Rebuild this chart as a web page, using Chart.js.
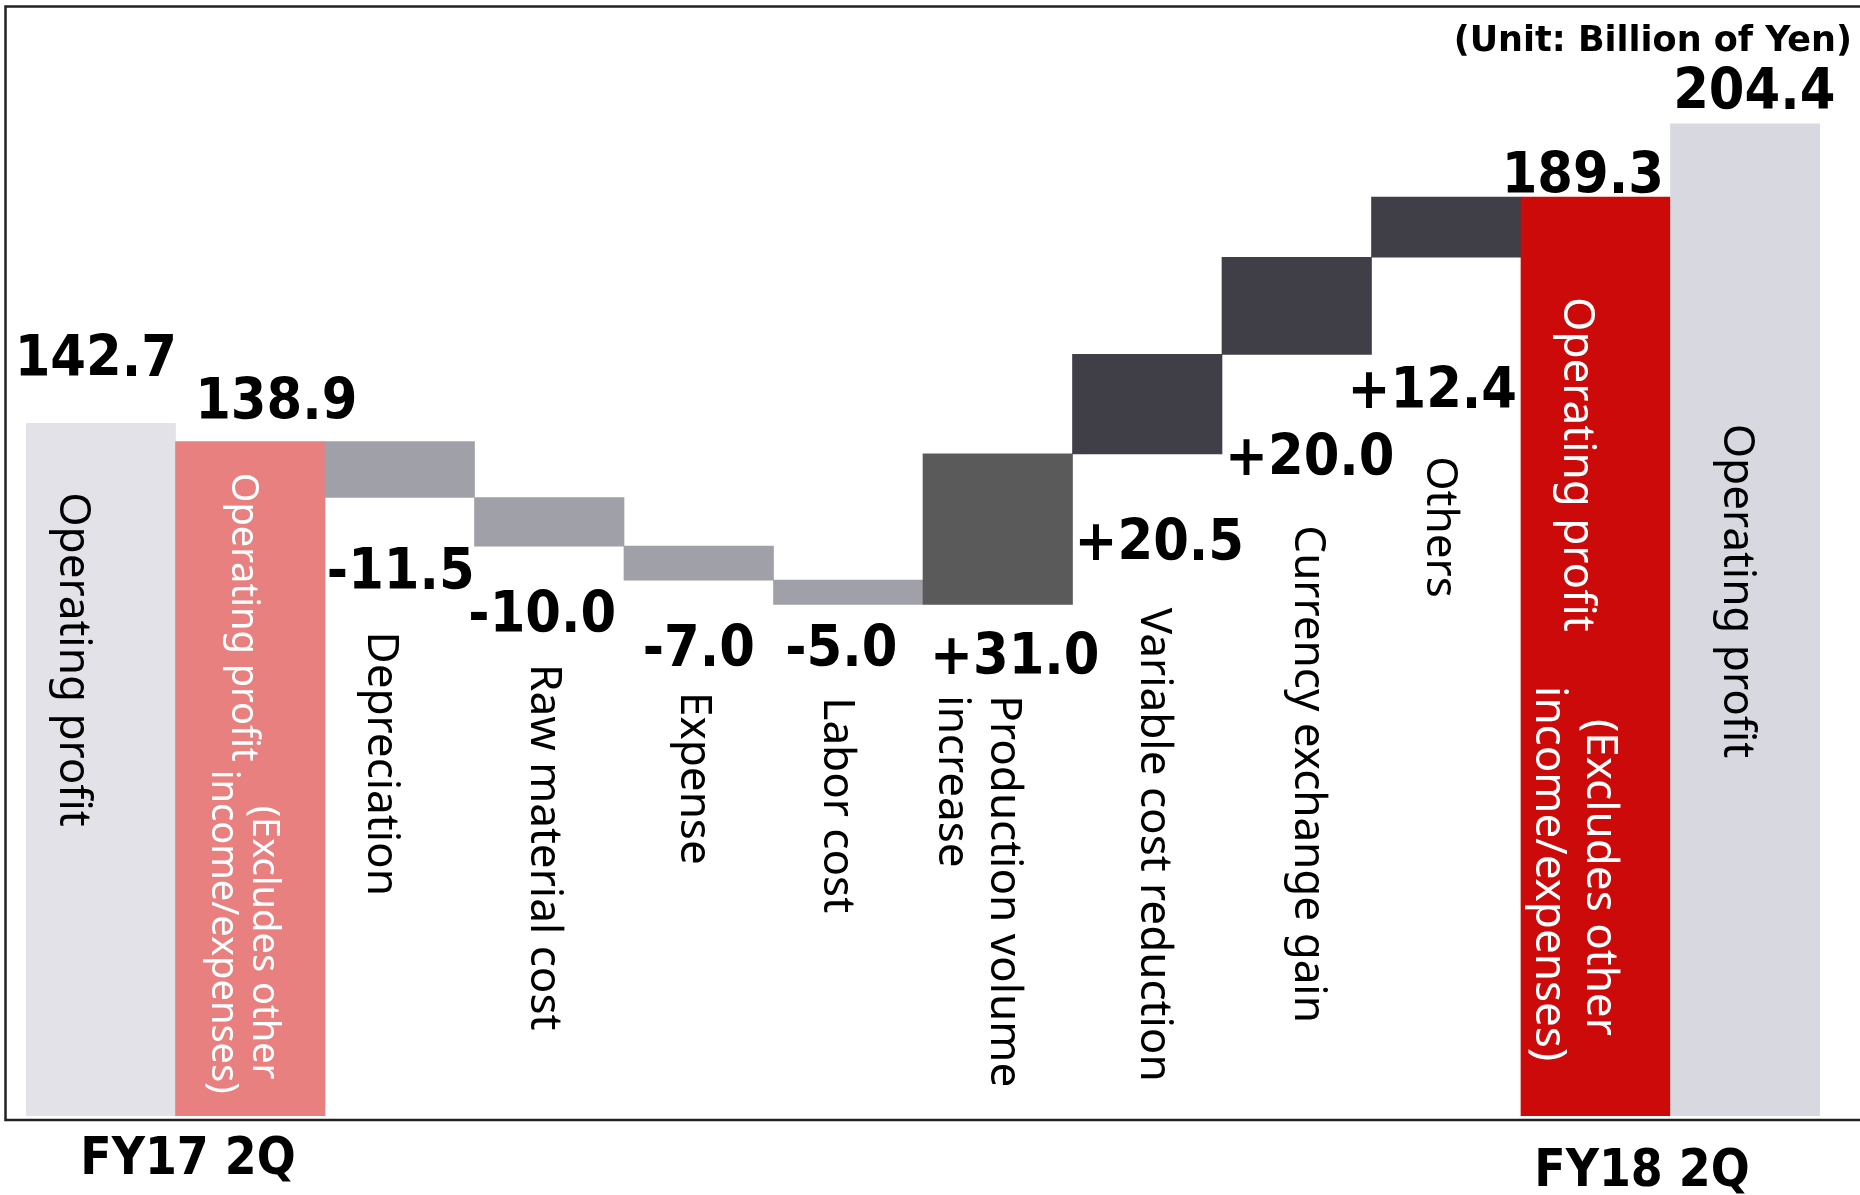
<!DOCTYPE html>
<html>
<head>
<meta charset="utf-8">
<script src="https://cdn.jsdelivr.net/npm/chart.js@4/dist/chart.umd.min.js"></script>
<style>
  html, body { margin: 0; padding: 0; background: #fff; }
  #wrap { position: relative; width: 1860px; height: 1195px; }
</style>
</head>
<body>
<div id="wrap"><canvas id="bridgeChart"></canvas></div>
<script>
// ---- data (billion yen) ----
var categories = [
  ['Operating profit'],
  ['Operating profit', '(Excludes other', 'income/expenses)'],
  ['Depreciation'],
  ['Raw material cost'],
  ['Expense'],
  ['Labor cost'],
  ['Production volume', 'increase'],
  ['Variable cost reduction'],
  ['Currency exchange gain'],
  ['Others'],
  ['Operating profit', '(Excludes other', 'income/expenses)'],
  ['Operating profit']
];
var totals  = [142.7, 138.9, null, null, null, null, null, null, null, null, 189.3, 204.4];
var changes = [null, null, -11.5, -10.0, -7.0, -5.0, 31.0, 20.5, 20.0, 12.4, null, null];
var periods = ['FY17 2Q', 'FY18 2Q'];
var unitText = '(Unit: Billion of Yen)';

// ---- looks ----
var barColors = ['#E3E2E8', '#E98080', '#A0A0A8', '#A0A0A8', '#A0A0A8', '#A0A0A8',
                 '#5A5A5A', '#403F48', '#403F48', '#403F48', '#CC0A0A', '#D8D8E0'];
var textColors = ['#000', '#fff', '#000', '#000', '#000', '#000',
                  '#000', '#000', '#000', '#000', '#fff', '#000'];
var catFontSize = [44, 38, 44, 44, 44, 44, 44, 44, 44, 44, 44, 44];
// value label: [dx from bar centre, baseline dy from anchor]
var valuePos = [[-5, -47], [26, -23], [1, 91], [-7, 86], [0, 86], [-7, 62],
                [17, 70], [12, 106], [13, 121], [-14, 151], [-13, -4], [9, -15]];
// category label lines: [column dx from bar centre, start dy from anchor]
var catPos = [
  [[-26, 69]],
  [[-5, 31], [16, 364], [-25, 328]],
  [[-17, 134]], [[-4, 118]], [[-3, 112]], [[-10, 93]],
  [[8, 91], [-44, 91]],
  [[8, 154]], [[13, 171]], [[-5, 199]],
  [[-17, 100], [6, 522], [-45, 489]],
  [[-7, 300]]
];

// floating bars: totals start at 0, changes run from the previous level
var ranges = [];
var level = 0;
for (var k = 0; k < categories.length; k++) {
  if (totals[k] !== null) {
    ranges.push([0, totals[k]]);
    level = totals[k];
  } else {
    ranges.push([level, level + changes[k]]);
    level = level + changes[k];
  }
}

function valueText(k) {
  if (totals[k] !== null) return totals[k].toFixed(1);
  return (changes[k] > 0 ? '+' : '') + changes[k].toFixed(1);
}

var boldFont = "'DejaVu Sans Condensed', 'DejaVu Sans', sans-serif";

var labelPlugin = {
  id: 'bridgeLabels',
  afterDatasetsDraw: function (chart) {
    var ctx = chart.ctx;
    var y = chart.scales.y;
    var bars = chart.getDatasetMeta(0).data;

    // frame (open on the right)
    ctx.save();
    ctx.strokeStyle = '#222';
    ctx.lineWidth = 2.5;
    ctx.beginPath();
    ctx.moveTo(1860, 6.5);
    ctx.lineTo(5.5, 6.5);
    ctx.lineTo(5.5, 1120);
    ctx.lineTo(1860, 1120);
    ctx.stroke();
    ctx.restore();

    for (var i = 0; i < bars.length; i++) {
      var cx = bars[i].x;
      var anchor = totals[i] !== null
        ? y.getPixelForValue(totals[i])
        : y.getPixelForValue(Math.min(ranges[i][0], ranges[i][1]));

      // value label
      ctx.save();
      ctx.font = 'bold condensed 57px ' + boldFont;
      ctx.fillStyle = '#000';
      ctx.textAlign = 'center';
      ctx.textBaseline = 'alphabetic';
      ctx.fillText(valueText(i), cx + valuePos[i][0], anchor + valuePos[i][1]);
      ctx.restore();

      // category label, rotated to read downwards
      var size = catFontSize[i];
      for (var j = 0; j < categories[i].length; j++) {
        var p = catPos[i][j];
        ctx.save();
        ctx.font = size + "px 'Noto Sans', sans-serif";
        ctx.fillStyle = textColors[i];
        ctx.textAlign = 'left';
        ctx.textBaseline = 'alphabetic';
        ctx.translate(cx + p[0] - 0.237 * size - 4, anchor + p[1]);
        ctx.rotate(Math.PI / 2);
        ctx.fillText(categories[i][j], 0, 0);
        ctx.restore();
      }
    }

    // period captions and unit
    ctx.save();
    ctx.fillStyle = '#000';
    ctx.textAlign = 'center';
    ctx.font = 'bold condensed 51px ' + boldFont;
    ctx.fillText(periods[0], 188, 1174);
    ctx.fillText(periods[1], 1642, 1186);
    ctx.textAlign = 'right';
    ctx.font = "bold 35px 'DejaVu Sans', sans-serif";
    ctx.fillText(unitText, 1852, 51);
    ctx.restore();
  }
};

var chart = new Chart(document.getElementById('bridgeChart'), {
  type: 'bar',
  data: {
    labels: categories.map(function (c) { return c.join(' '); }),
    datasets: [{
      data: ranges,
      backgroundColor: barColors,
      borderWidth: 0,
      categoryPercentage: 1.0,
      barPercentage: 1.0
    }]
  },
  options: {
    responsive: true,
    maintainAspectRatio: false,
    animation: false,
    layout: { padding: { left: 26, right: 40, top: 48, bottom: 79 } },
    plugins: { legend: { display: false }, tooltip: { enabled: false } },
    scales: {
      x: { display: false },
      y: { display: false, min: 0, max: 220 }
    }
  },
  plugins: [labelPlugin]
});
</script>
</body>
</html>
